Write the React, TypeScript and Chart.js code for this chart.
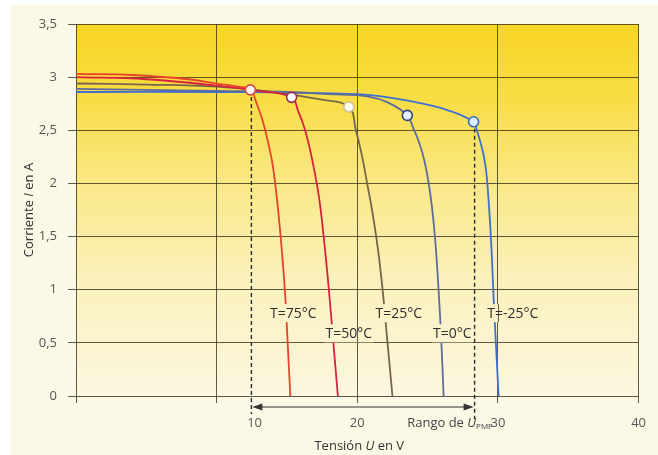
import React, { useEffect, useRef } from 'react';
import { Chart, registerables } from 'chart.js';
Chart.register(...registerables);

// Axis ticks
const X_TICK_VALUES = [0, 10, 12.7, 20, 30, 40];
const X_TICK_LABELS = ['', '', '10', '20', '30', '40'];
const X_GRID_VALUES = [0, 10, 20, 30, 40];
const Y_TICK_VALUES = [0, 0.5, 1, 1.5, 2, 2.5, 3, 3.5];

// I-V curves (voltage V, current A)
const T75_V = [0, 4, 8, 10, 11.5, 12.4, 12.85, 13.25, 13.6, 13.95, 14.25, 14.55, 14.85, 15.05, 15.24];
const T75_I = [3.03, 3.02, 2.98, 2.94, 2.91, 2.88, 2.75, 2.6, 2.42, 2.2, 1.9, 1.5, 1.0, 0.5, 0];
const T50_V = [0, 5, 10, 13, 15.33, 15.8, 16.25, 16.62, 16.98, 17.32, 17.65, 17.98, 18.3, 18.62];
const T50_I = [3.0, 2.98, 2.92, 2.87, 2.81, 2.68, 2.52, 2.33, 2.1, 1.83, 1.45, 1.0, 0.5, 0];
const T25_V = [0, 5, 10, 14, 17.4, 19.4, 19.9, 20.35, 20.7, 21.05, 21.45, 21.8, 22.15, 22.5];
const T25_I = [2.94, 2.93, 2.91, 2.86, 2.79, 2.72, 2.5, 2.25, 2.0, 1.75, 1.4, 1.0, 0.5, 0];
const T0_V = [0, 5, 10, 15, 18, 20.7, 22.2, 23.56, 23.98, 24.41, 24.76, 25.04, 25.29, 25.54, 25.78, 25.97, 26.14];
const T0_I = [2.89, 2.88, 2.87, 2.86, 2.84, 2.82, 2.76, 2.64, 2.52, 2.38, 2.22, 2.03, 1.8, 1.47, 1.0, 0.53, 0];
const TM25_V = [0, 10, 15, 20, 22.2, 24.3, 26.4, 28.27, 28.5, 28.75, 28.98, 29.17, 29.31, 29.45, 29.58, 29.7, 29.88, 30.05];
const TM25_I = [2.86, 2.86, 2.855, 2.84, 2.81, 2.76, 2.69, 2.58, 2.5, 2.39, 2.27, 2.11, 1.89, 1.61, 1.28, 0.9, 0.43, 0];

// Maximum power points
const MPP_V = [12.4, 15.33, 19.4, 23.56, 28.27];
const MPP_I = [2.88, 2.81, 2.72, 2.64, 2.58];

// Curve labels
const LABEL_TEXT = ['T=75°C', 'T=50°C', 'T=25°C', 'T=0°C', 'T=-25°C'];
const LABEL_V = [15.45, 19.4, 22.95, 26.75, 31.05];
const LABEL_I = [0.78, 0.59, 0.78, 0.59, 0.78];

const CURVE_COLORS = ['#E8422A', '#D9203F', '#76664C', '#5E6B9E', '#3F6FD2'];
const POINT_BORDERS = ['#D84848', '#9A2A55', '#D2C494', '#34407A', '#3A6AC0'];
const POINT_FILLS = ['#FFF6F4', '#FFFFFF', '#FFFFF2', '#E6F0FF', '#DDEEFF'];

const GRID = 'rgba(55,50,25,0.8)';
const FONT = "'Open Sans', 'DejaVu Sans', sans-serif";

const toPts = (xs: number[], ys: number[]) => xs.map((x, i) => ({ x, y: ys[i] }));

function plotGradient(ctx: CanvasRenderingContext2D, a: any) {
  const g = ctx.createLinearGradient(0, a.top, 0, a.bottom);
  g.addColorStop(0, '#F7D523');
  g.addColorStop(0.2, '#F8DD45');
  g.addColorStop(0.45, '#FAE98C');
  g.addColorStop(0.7, '#FBF1BE');
  g.addColorStop(1, '#FCF7E0');
  return g;
}

function drawMixed(ctx: CanvasRenderingContext2D, parts: { t: string; f: string; dy?: number }[], x: number, y: number, align: 'center' | 'right') {
  let total = 0;
  for (const p of parts) { ctx.font = p.f; total += ctx.measureText(p.t).width; }
  let cx = align === 'center' ? x - total / 2 : x - total;
  ctx.textAlign = 'left';
  ctx.textBaseline = 'middle';
  for (const p of parts) {
    ctx.font = p.f;
    ctx.fillText(p.t, cx, y + (p.dy || 0));
    cx += ctx.measureText(p.t).width;
  }
}

const custom = {
  id: 'custom',
  beforeDraw(chart: any) {
    const { ctx, chartArea: a, width, height } = chart;
    ctx.save();
    ctx.fillStyle = '#FBF8E5';
    ctx.fillRect(0, 0, width, height);
    ctx.fillStyle = plotGradient(ctx, a);
    ctx.fillRect(a.left, a.top, a.width, a.height);
    ctx.restore();
  },
  beforeDatasetsDraw(chart: any) {
    const { ctx, scales } = chart;
    const xs = scales.x, ys = scales.y;
    ctx.save();
    ctx.strokeStyle = '#2a2a2a';
    ctx.lineWidth = 1.4;
    ctx.setLineDash([4, 3]);
    const ends = [[0, 409], [4, 414]];
    for (const [i, yb] of ends) {
      const px = xs.getPixelForValue(MPP_V[i]) + 1;
      ctx.beginPath();
      ctx.moveTo(px, ys.getPixelForValue(MPP_I[i]));
      ctx.lineTo(px, yb);
      ctx.stroke();
    }
    ctx.restore();
  },
  afterDatasetsDraw(chart: any) {
    const { ctx, scales, chartArea: a } = chart;
    const xs = scales.x, ys = scales.y;
    ctx.save();
    const g = plotGradient(ctx, a);
    ctx.font = `14px ${FONT}`;
    ctx.textAlign = 'center';
    ctx.textBaseline = 'middle';
    LABEL_TEXT.forEach((t, i) => {
      const px = xs.getPixelForValue(LABEL_V[i]);
      const py = ys.getPixelForValue(LABEL_I[i]);
      const w = ctx.measureText(t).width;
      const bx = px - w / 2 - 1, by = py - 9, bw = w + 2, bh = 18;
      ctx.fillStyle = g;
      ctx.fillRect(bx, by, bw, bh);
      // keep the vertical grid lines visible through the label box
      ctx.strokeStyle = GRID;
      ctx.lineWidth = 1;
      X_GRID_VALUES.forEach((gv) => {
        const gx = Math.round(xs.getPixelForValue(gv)) + 0.5;
        if (gx > bx && gx < bx + bw) {
          ctx.beginPath();
          ctx.moveTo(gx, by);
          ctx.lineTo(gx, by + bh);
          ctx.stroke();
        }
      });
      ctx.fillStyle = '#2e2e2e';
      ctx.fillText(t, px, py + 1);
    });
    ctx.restore();
  },
  afterDraw(chart: any) {
    const { ctx, scales, chartArea: a } = chart;
    const xs = scales.x;
    ctx.save();
    const x1 = xs.getPixelForValue(MPP_V[0]) + 2;
    const x2 = xs.getPixelForValue(MPP_V[4]);
    const ay = 402;
    ctx.strokeStyle = '#333';
    ctx.fillStyle = '#333';
    ctx.lineWidth = 1.2;
    ctx.beginPath();
    ctx.moveTo(x1 + 8, ay);
    ctx.lineTo(x2 - 8, ay);
    ctx.stroke();
    ctx.beginPath();
    ctx.moveTo(x1, ay); ctx.lineTo(x1 + 10, ay - 3.5); ctx.lineTo(x1 + 10, ay + 3.5); ctx.closePath(); ctx.fill();
    ctx.beginPath();
    ctx.moveTo(x2, ay); ctx.lineTo(x2 - 10, ay - 3.5); ctx.lineTo(x2 - 10, ay + 3.5); ctx.closePath(); ctx.fill();

    ctx.fillStyle = '#444';
    drawMixed(ctx, [
      { t: 'Rango de ', f: `13px ${FONT}` },
      { t: 'U', f: `italic 13px ${FONT}` },
      { t: 'PMP', f: `8px ${FONT}`, dy: 4 },
    ], xs.getPixelForValue(30) - 5, 418, 'right');

    ctx.fillStyle = '#333';
    drawMixed(ctx, [
      { t: 'Tensión ', f: `13px ${FONT}` },
      { t: 'U', f: `italic 13px ${FONT}` },
      { t: ' en V', f: `13px ${FONT}` },
    ], (a.left + a.right) / 2 + 2, 441, 'center');

    ctx.translate(19, (a.top + a.bottom) / 2);
    ctx.rotate(-Math.PI / 2);
    drawMixed(ctx, [
      { t: 'Corriente ', f: `13px ${FONT}` },
      { t: 'I', f: `italic 13px ${FONT}` },
      { t: ' en A', f: `13px ${FONT}` },
    ], 0, 0, 'center');
    ctx.restore();
  },
};

export default function App() {
  const ref = useRef<HTMLCanvasElement>(null);
  useEffect(() => {
    const canvas = ref.current!;
    const curves = [
      [T75_V, T75_I], [T50_V, T50_I], [T25_V, T25_I], [T0_V, T0_I], [TM25_V, TM25_I],
    ];
    const datasets: any[] = curves.map(([v, i], k) => ({
      data: toPts(v, i),
      borderColor: CURVE_COLORS[k],
      borderWidth: 1.8,
      pointRadius: 0,
      tension: 0.4,
      fill: false,
      order: 2,
    }));
    MPP_V.forEach((v, k) => {
      datasets.push({
        data: [{ x: v, y: MPP_I[k] }],
        showLine: false,
        pointRadius: 5,
        pointBorderWidth: 1.6,
        pointBorderColor: POINT_BORDERS[k],
        pointBackgroundColor: POINT_FILLS[k],
        borderColor: POINT_BORDERS[k],
        order: 1,
      });
    });
    const chart = new Chart(canvas, {
      type: 'line',
      data: { datasets },
      options: {
        animation: false,
        responsive: false,
        devicePixelRatio: 1,
        layout: { padding: { left: 0, top: 19, right: 15, bottom: 0 } },
        plugins: { legend: { display: false }, tooltip: { enabled: false } },
        scales: {
          x: {
            type: 'linear',
            min: 0,
            max: 40,
            afterBuildTicks: (s: any) => { s.ticks = X_TICK_VALUES.map((value) => ({ value })); },
            afterFit: (s: any) => { s.height = 59; },
            grid: {
              color: (c: any) => (X_GRID_VALUES.includes(c.tick?.value) ? GRID : 'rgba(0,0,0,0)'),
              tickLength: 7,
              lineWidth: 1,
            },
            border: { display: false },
            ticks: {
              autoSkip: false,
              maxRotation: 0,
              padding: 12,
              color: '#555',
              font: { family: FONT, size: 13 },
              callback: (_v: any, idx: number) => X_TICK_LABELS[idx],
            },
          },
          y: {
            type: 'linear',
            min: 0,
            max: 3.5,
            afterBuildTicks: (s: any) => { s.ticks = Y_TICK_VALUES.map((value) => ({ value })); },
            afterFit: (s: any) => { s.width = 66; },
            grid: { color: GRID, tickLength: 8, lineWidth: 1 },
            border: { display: false },
            ticks: {
              padding: 11,
              color: '#555',
              font: { family: FONT, size: 13 },
              callback: (v: any) => String(v).replace('.', ','),
            },
          },
        },
      },
      plugins: [custom],
    } as any);
    return () => chart.destroy();
  }, []);
  return (
    <div style={{ position: 'absolute', left: 0, top: 0, width: 658, height: 455, background: '#ffffff', overflow: 'hidden' }}>
      <div style={{ position: 'absolute', left: 10, top: 5, width: 648, height: 450 }}>
        <canvas ref={ref} width={648} height={450} style={{ display: 'block', width: 648, height: 450 }} />
      </div>
    </div>
  );
}
